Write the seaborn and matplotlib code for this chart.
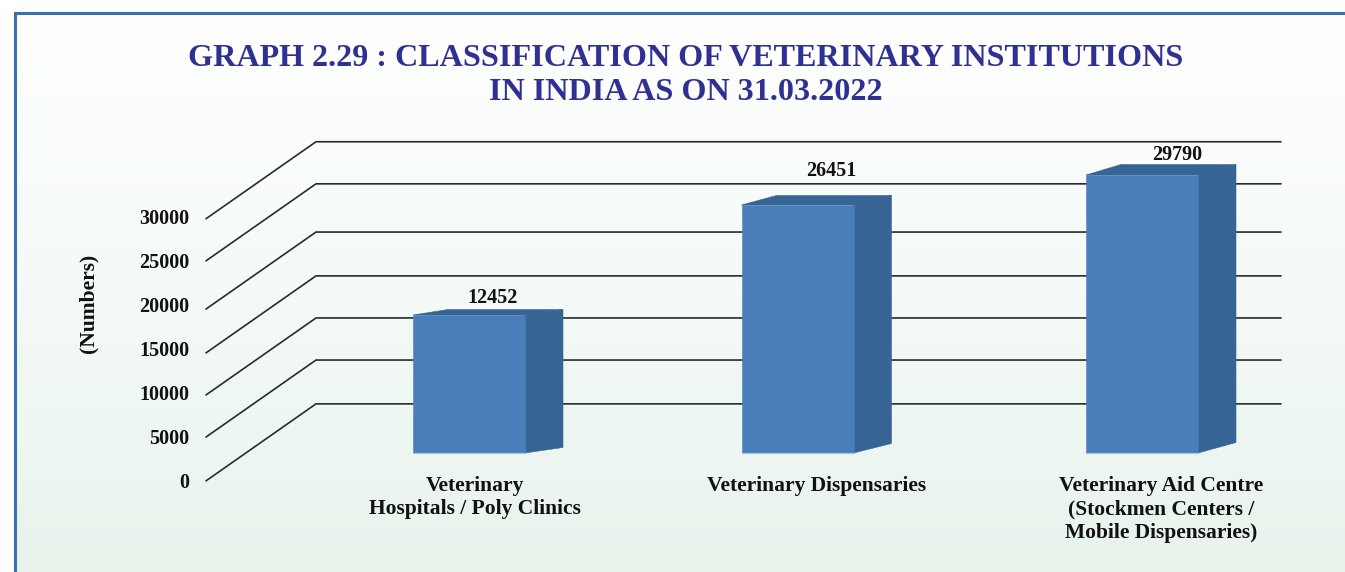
import numpy as np
import pandas as pd
import matplotlib
matplotlib.use("Agg")
import matplotlib.pyplot as plt
from matplotlib.colors import LinearSegmentedColormap
from matplotlib.patches import Polygon
import seaborn as sns

# ---- data ----
title = "GRAPH 2.29 : CLASSIFICATION OF VETERINARY INSTITUTIONS\nIN INDIA AS ON 31.03.2022"
categories = ["Veterinary\nHospitals / Poly Clinics",
              "Veterinary Dispensaries",
              "Veterinary Aid Centre\n(Stockmen Centers /\nMobile Dispensaries)"]
value_labels = [12452, 26451, 29790]
# bar heights as drawn in the picture (the source's bars overshoot their labels)
drawn_heights = [15740, 28290, 31710]
y_ticks = [0, 5000, 10000, 15000, 20000, 25000, 30000]
# gridline levels as drawn
grid_levels = [-100, 4900, 9700, 14500, 19500, 25000, 29800]

# ---- layout (pixels of the 1345x572 canvas) ----
W, H = 1345, 572
PX = 263 / 30000            # pixels per axis unit
Y0 = 480                    # pixel row of axis value 0
BASE = 453                  # pixel row of bar bases
AX_L, AX_R, AX_T, AX_B = 196, 1290, 130, 490
bar_centres = [469, 797.5, 1142]
bar_width = 112
side_dx, top_dx = 38, 35
bar_rise = [5.5, 9.5, 10.5]
label_centres = [475, 817, 1161]
value_xy = [(493, 298), (831, 171), (1177, 155)]
wall_x = (206, 316, 1281)
wall_rise = 77

def row(p):
    return (Y0 - p) / PX

sns.set_theme(style="white")
plt.rcParams["font.family"] = ["Liberation Serif", "DejaVu Serif"]
plt.rcParams["font.weight"] = "bold"

FRONT, DARK, LIGHT = "#4a7ebb", "#366494", "#a9c6e2"
TEXT = "#111111"

fig = plt.figure(figsize=(W / 100, H / 100), dpi=100, facecolor="white")

# panel with gradient and border
bg = fig.add_axes([15 / W, 0, 1 - 15 / W, 1 - 13 / H], zorder=0)
cmap = LinearSegmentedColormap.from_list("panel", ["#ffffff", "#f4faf7", "#e8f3ec"])
bg.imshow(np.linspace(0, 1, 256)[:, None], aspect="auto", cmap=cmap, vmin=0, vmax=1)
bg.set_xticks([]); bg.set_yticks([])
for s in ["right", "bottom"]:
    bg.spines[s].set_visible(False)
for s in ["top", "left"]:
    bg.spines[s].set_color("#3c6fb0")
    bg.spines[s].set_linewidth(2.2)

ax = fig.add_axes([AX_L / W, 1 - AX_B / H, (AX_R - AX_L) / W, (AX_B - AX_T) / H], zorder=1)
ax.patch.set_alpha(0)

df = pd.DataFrame({"x": bar_centres, "height": drawn_heights})
sns.barplot(data=df, x="x", y="height", native_scale=True, ax=ax, color=FRONT, saturation=1,
            width=bar_width / (bar_centres[1] - bar_centres[0]),
            bottom=row(BASE), edgecolor=FRONT, linewidth=0.4, zorder=3)
ax.set_xlim(AX_L, AX_R)
ax.set_ylim(row(AX_B), row(AX_T))

# floor / wall lines
for lv in grid_levels:
    ax.plot(wall_x, [lv, lv + wall_rise / PX, lv + wall_rise / PX], color="#2a2a2a", lw=1.2,
            clip_on=False, zorder=1, solid_joinstyle="miter")

# 3-D faces derived from each bar
for bar, rise in zip(ax.patches, bar_rise):
    x0, x1 = bar.get_x(), bar.get_x() + bar.get_width()
    y0, y1 = bar.get_y(), bar.get_y() + bar.get_height()
    dy = rise / PX
    ax.add_patch(Polygon([(x1, y0), (x1 + side_dx, y0 + dy), (x1 + side_dx, y1 + dy), (x1, y1)],
                         closed=True, fc=DARK, ec=DARK, lw=0.4, zorder=2.5))
    ax.add_patch(Polygon([(x0, y1), (x0 + top_dx, y1 + dy), (x1 + side_dx, y1 + dy), (x1, y1)],
                         closed=True, fc=DARK, ec=DARK, lw=0.4, zorder=2.5))
    # pale lower edge of the front face
    ax.plot([x0, x1], [y0, y0], color=LIGHT, lw=0.9, zorder=4, solid_capstyle="butt")

for v, (px, py) in zip(value_labels, value_xy):
    ax.text(px, row(py), str(v), ha="center", va="center", fontsize=14.5, fontweight="bold",
            color=TEXT, zorder=5)

for s in ax.spines.values():
    s.set_visible(False)
ax.set_yticks(y_ticks)
ax.set_yticklabels([str(t) for t in y_ticks], fontsize=14.5, fontweight="bold", color=TEXT)
ax.set_xticks(label_centres)
ax.set_xticklabels(categories, fontsize=15.5, fontweight="bold", color=TEXT, linespacing=1.22)
ax.tick_params(axis="both", length=0)
ax.tick_params(axis="y", pad=5)
ax.tick_params(axis="x", pad=-10)
ax.set_xlabel("")
ax.set_ylabel("(Numbers)", fontsize=15.5, fontweight="bold", color=TEXT)
ax.yaxis.set_label_coords((98 - AX_L) / (AX_R - AX_L), (AX_B - 303) / (AX_B - AX_T))

fig.text(686 / W, 1 - 75.5 / H, title, ha="center", va="center", fontsize=23.1, fontweight="bold",
         color="#2e3192", linespacing=1.24)

fig.savefig("out.png", dpi=100)
